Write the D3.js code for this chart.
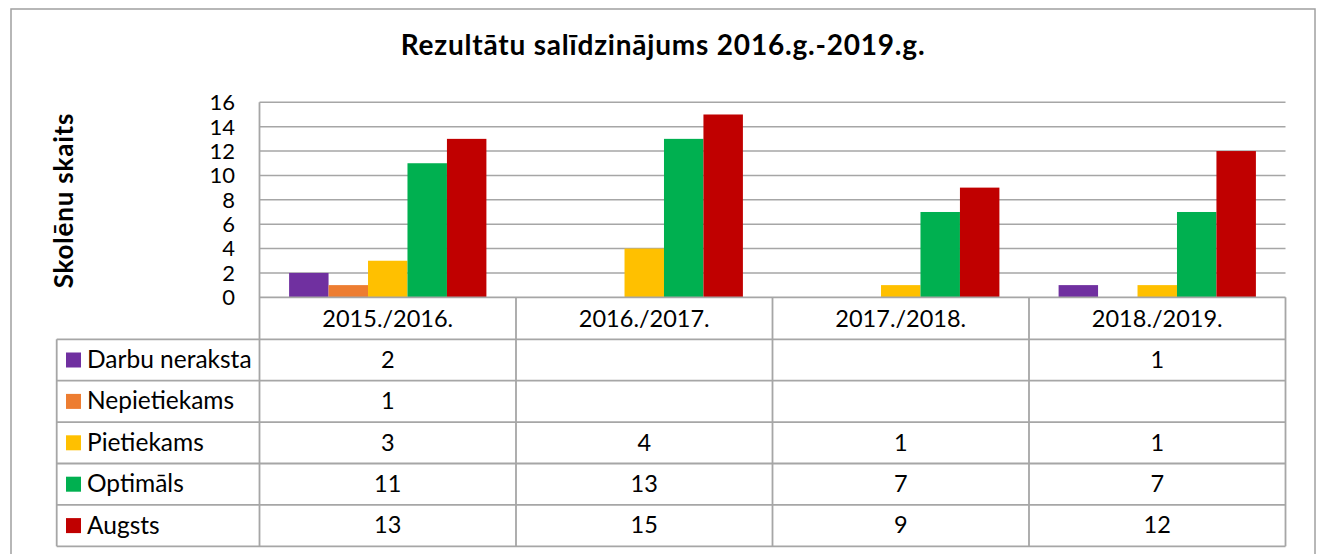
<!DOCTYPE html>
<html><head><meta charset="utf-8">
<script src="https://cdn.jsdelivr.net/npm/d3@7"></script>
<style>html,body{margin:0;padding:0;background:#fff;overflow:hidden}</style>
</head><body>
<svg id="c" width="1323" height="554"></svg>
<script>
const categories = ["2015./2016.", "2016./2017.", "2017./2018.", "2018./2019."];
const seriesNames = ["Darbu neraksta", "Nepietiekams", "Pietiekams", "Optimāls", "Augsts"];
const seriesColors = ["#7030A0", "#ED7D31", "#FFC000", "#00B050", "#C00000"];
const darbuNeraksta = [2, null, null, 1];
const nepietiekams = [1, null, null, null];
const pietiekams = [3, 4, 1, 1];
const optimals = [11, 13, 7, 7];
const augsts = [13, 15, 9, 12];
const yTicks = [0, 2, 4, 6, 8, 10, 12, 14, 16];
const titleText = "Rezultātu salīdzinājums 2016.g.-2019.g.";
const yTitle = "Skolēnu skaits";

const seriesValues = [darbuNeraksta, nepietiekams, pietiekams, optimals, augsts];

(function () {
const svg = d3.select("#c");
const FONT = "Lato, 'Open Sans', sans-serif";
const lineColor = "#a6a6a6";

svg.append("rect").attr("x", 11).attr("y", 9).attr("width", 1304).attr("height", 620)
  .attr("fill", "none").attr("stroke", "#a0a0a0").attr("stroke-width", 1.5);

const pLeft = 259.5, pRight = 1285.5, pTop = 102.3, zero = 297.3;
const rowTop = 339.3, rowH = 41.4, legendLeft = 56.7;

const y = d3.scaleLinear().domain([0, 16]).range([zero, pTop]);
const x0 = d3.scaleBand().domain(categories).range([pLeft, pRight]);
const x1 = d3.scaleBand().domain(seriesNames).range([0, x0.bandwidth()]).paddingInner(0).paddingOuter(0.75);

svg.append("g").selectAll("line").data(yTicks.filter(d => d > 0)).join("line")
  .attr("x1", pLeft).attr("x2", pRight).attr("y1", d => y(d)).attr("y2", d => y(d))
  .attr("stroke", lineColor).attr("stroke-width", 1.5);

svg.append("g").selectAll("text").data(yTicks).join("text")
  .attr("x", 235).attr("y", d => y(d)).attr("dy", "0.36em")
  .attr("text-anchor", "end").attr("font-family", FONT).attr("font-size", 22).attr("fill", "#000")
  .text(d => d);

seriesNames.forEach((s, i) => {
  svg.append("g").selectAll("rect")
    .data(categories.map((c, j) => ({ c, v: seriesValues[i][j] })).filter(d => d.v != null))
    .join("rect")
    .attr("x", d => x0(d.c) + x1(s)).attr("width", x1.bandwidth())
    .attr("y", d => y(d.v)).attr("height", d => zero - y(d.v))
    .attr("fill", seriesColors[i]);
});

const bottom = rowTop + rowH * seriesNames.length;

const tl = svg.append("g").attr("stroke", lineColor).attr("stroke-width", 1.8);
tl.append("line").attr("x1", pLeft).attr("x2", pRight).attr("y1", zero).attr("y2", zero);
tl.append("line").attr("x1", pLeft).attr("x2", pLeft).attr("y1", pTop).attr("y2", bottom);
categories.forEach((c) => {
  const xx = x0(c) + x0.bandwidth();
  tl.append("line").attr("x1", xx).attr("x2", xx).attr("y1", zero).attr("y2", bottom);
});
tl.append("line").attr("x1", legendLeft).attr("x2", legendLeft).attr("y1", rowTop).attr("y2", bottom);
d3.range(seriesNames.length + 1).forEach(k => {
  const yy = rowTop + k * rowH;
  tl.append("line").attr("x1", legendLeft).attr("x2", pRight).attr("y1", yy).attr("y2", yy);
});

svg.append("g").selectAll("text").data(categories).join("text")
  .attr("x", d => x0(d) + x0.bandwidth() / 2).attr("y", (zero + rowTop) / 2).attr("dy", "0.36em")
  .attr("text-anchor", "middle").attr("font-family", FONT).attr("font-size", 23.5).attr("fill", "#000")
  .text(d => d);

seriesNames.forEach((s, i) => {
  const cy = rowTop + rowH * i + rowH / 2;
  svg.append("rect").attr("x", 66).attr("y", cy - 7.5).attr("width", 15).attr("height", 15).attr("fill", seriesColors[i]);
  svg.append("text").attr("x", 87).attr("y", cy).attr("dy", "0.33em")
    .attr("font-family", FONT).attr("font-size", 24.5).attr("fill", "#000").text(s);
  svg.append("g").selectAll("text")
    .data(categories.map((c, j) => ({ c, v: seriesValues[i][j] })).filter(d => d.v != null))
    .join("text")
    .attr("x", d => x0(d.c) + x0.bandwidth() / 2).attr("y", cy).attr("dy", "0.33em")
    .attr("text-anchor", "middle").attr("font-family", FONT).attr("font-size", 23.5).attr("fill", "#000")
    .text(d => d.v);
});

svg.append("text").attr("x", 663).attr("y", 55)
  .attr("text-anchor", "middle").attr("font-family", FONT).attr("font-weight", "bold")
  .attr("font-size", 28).attr("letter-spacing", 0.8).attr("fill", "#000").text(titleText);

svg.append("text").attr("transform", "translate(73,200.5) rotate(-90)")
  .attr("text-anchor", "middle").attr("font-family", FONT).attr("font-weight", "bold")
  .attr("font-size", 26).attr("letter-spacing", 0.8).attr("fill", "#000").text(yTitle);
})();
</script>
</body></html>
